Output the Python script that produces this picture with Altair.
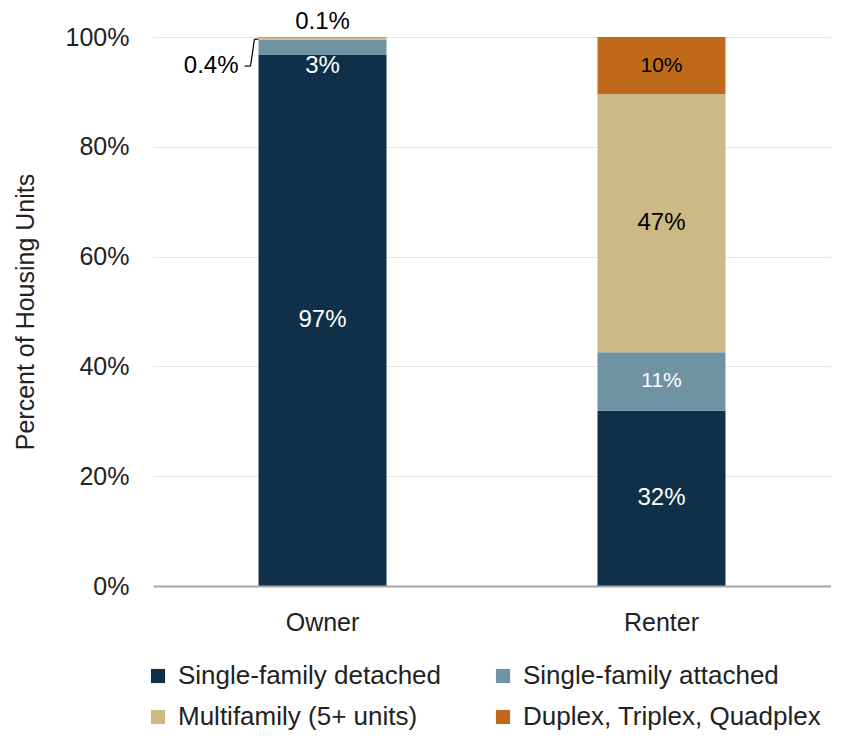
import altair as alt
import pandas as pd

tenure = ["Owner", "Owner", "Owner", "Owner", "Renter", "Renter", "Renter", "Renter"]
types = ["Single-family detached", "Single-family attached", "Multifamily (5+ units)", "Duplex, Triplex, Quadplex"] * 2
values = [96.8, 2.7, 0.4, 0.1, 31.9, 10.7, 47.0, 10.4]
labels = ["97%", "3%", "0.4%", "0.1%", "32%", "11%", "47%", "10%"]
order = [1, 2, 3, 4, 1, 2, 3, 4]

type_order = ["Single-family detached", "Single-family attached", "Multifamily (5+ units)", "Duplex, Triplex, Quadplex"]
colors = ["#10304a", "#6f93a3", "#cdb985", "#c0691a"]
label_colors = ["white", "white", "black", "black"]

df = pd.DataFrame({"tenure": tenure, "type": types, "value": values, "label": labels, "ord": order})

FONT = "Liberation Sans"
W, H = 678, 549

x = alt.X("tenure:N", title=None, scale=alt.Scale(paddingInner=0, paddingOuter=0),
          axis=alt.Axis(labelAngle=0, labelFontSize=25, labelColor="#222", labelPadding=24,
                        ticks=False, domainColor="#a6a6a6", domainWidth=2, labelFont=FONT,
                        zindex=1))
yscale = alt.Scale(domain=[0, 100])

base = alt.Chart(df).transform_stack(
    stack="value", groupby=["tenure"], as_=["v0", "v1"], sort=[alt.SortField("ord")]
).transform_calculate(mid="(datum.v0 + datum.v1) / 2")

bars = base.mark_bar(size=128).encode(
    x=x,
    y=alt.Y("v0:Q", scale=yscale, title="Percent of Housing Units",
            axis=alt.Axis(values=[0, 20, 40, 60, 80, 100], labelExpr="datum.value + '%'",
                          labelFontSize=25, labelColor="#222", labelPadding=24, ticks=False,
                          domain=False, gridColor="#e6e6e6", titleFontSize=25,
                          titleFontWeight="normal", titleColor="#222", titlePadding=27,
                          labelFont=FONT, titleFont=FONT)),
    y2="v1:Q",
    color=alt.Color("type:N", scale=alt.Scale(domain=type_order, range=colors), sort=type_order,
                    legend=alt.Legend(title=None, orient="none", legendX=-8, legendY=626,
                                      direction="horizontal", columns=2, padding=0,
                                      symbolType="square", symbolSize=200,
                                      symbolStrokeWidth=0, labelFontSize=26, labelColor="#222",
                                      columnPadding=48, rowPadding=15, labelOffset=7,
                                      labelFont=FONT, labelLimit=400)),
)

main_labels = base.transform_filter("datum.value >= 15").mark_text(fontSize=24, font=FONT).encode(
    x=x,
    y=alt.Y("mid:Q", scale=yscale),
    text="label:N",
    color=alt.Color("type:N", scale=alt.Scale(domain=type_order, range=label_colors), legend=None),
)
small_labels = base.transform_filter("datum.value >= 5 && datum.value < 15").mark_text(
    fontSize=21, font=FONT).encode(
    x=x,
    y=alt.Y("mid:Q", scale=yscale),
    text="label:N",
    color=alt.Color("type:N", scale=alt.Scale(domain=type_order, range=label_colors), legend=None),
)

# small owner annotations
ann = pd.DataFrame({"tenure": ["Owner"], "y_lab": [94.7], "top": [100.0], "y_seg": [99.6],
                    "t3": ["3%"], "t04": ["0.4%"], "t01": ["0.1%"]})
abase = alt.Chart(ann)
xa = alt.X("tenure:N")
lab3 = abase.mark_text(fontSize=24, color="white", font=FONT).encode(x=xa, y=alt.Y("y_lab:Q", scale=yscale), text="t3:N")
lab04 = abase.mark_text(fontSize=24, color="black", align="right", dx=-84, font=FONT).encode(
    x=xa, y=alt.Y("y_lab:Q", scale=yscale), text="t04:N")
lab01 = abase.mark_text(fontSize=24, color="black", baseline="alphabetic", dy=-8, font=FONT).encode(
    x=xa, y=alt.Y("top:Q", scale=yscale), text="t01:N")
lead1 = abase.mark_rule(color="black", strokeWidth=1.2, xOffset=-78, x2Offset=-72).encode(
    x=xa, x2="tenure:N", y=alt.Y("y_lab:Q", scale=yscale), y2="y_lab:Q")
lead2 = abase.mark_rule(color="black", strokeWidth=1.2, xOffset=-72, x2Offset=-68).encode(
    x=xa, x2="tenure:N", y=alt.Y("y_lab:Q", scale=yscale), y2="y_seg:Q")
lead3 = abase.mark_rule(color="black", strokeWidth=1.2, xOffset=-68, x2Offset=-64).encode(
    x=xa, x2="tenure:N", y=alt.Y("y_seg:Q", scale=yscale), y2="y_seg:Q")

chart = alt.layer(bars, main_labels, small_labels, lab3, lab04, lab01, lead1, lead2, lead3).resolve_scale(
    color="independent"
).properties(
    width=W, height=H,
    autosize=alt.AutoSizeParams(type="none"),
    padding={"left": 145, "top": 29, "right": 0, "bottom": 144},
).configure_view(stroke=None)

chart.save("out.html", embed_options={"renderer": "svg", "actions": False})
